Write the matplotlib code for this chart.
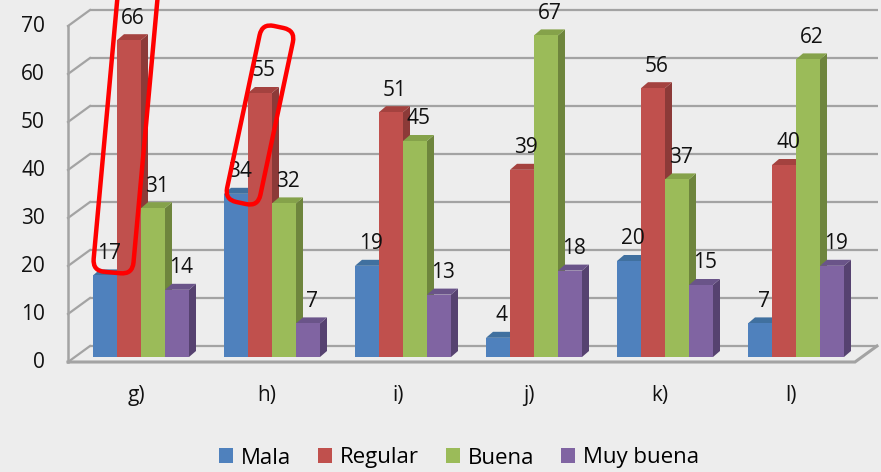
import matplotlib
matplotlib.use("Agg")
import matplotlib.pyplot as plt
from matplotlib.patches import Polygon, Patch, FancyBboxPatch
from matplotlib import transforms

# ---- data ----
categories = ["g)", "h)", "i)", "j)", "k)", "l)"]
series_names = ["Mala", "Regular", "Buena", "Muy buena"]
mala = [17, 34, 19, 4, 20, 7]
regular = [66, 55, 51, 39, 56, 40]
buena = [31, 32, 45, 67, 37, 62]
muy_buena = [14, 7, 13, 18, 15, 19]
y_ticks = [0, 10, 20, 30, 40, 50, 60, 70]
highlighted = [(0, 1), (1, 1)]  # (category, series) marked with a red loop

series_values = [mala, regular, buena, muy_buena]

# ---- style ----
front_colors = ["#4F81BD", "#C0504D", "#9BBB59", "#8064A2"]
side_colors = ["#39608E", "#8C3A38", "#6E853D", "#564270"]
top_colors = ["#40709F", "#A4423F", "#85A24A", "#6A5489"]
grid_color = "#a3a3a3"
bg = "#ededed"
FONT = ["Open Sans", "DejaVu Sans"]

# pixel scale of one category step and one value unit
PX_X = 131.0
PX_Y = 4.8
W = 24 / PX_X                  # bar width
DX, DY = 7 / PX_X, 6 / PX_Y    # bar depth
FLOOR_X = -73 / PX_X           # front-left corner of the floor
FLOOR_Y = -5 / PX_Y
WALL_DX, WALL_DY = 22 / PX_X, 16 / PX_Y   # depth of the chart box
FLOOR_RIGHT = 714 / PX_X
YMAX = 70

fig = plt.figure(figsize=(8.81, 4.72), dpi=100, facecolor=bg)
ax = fig.add_axes([0, 0, 1, 1])
ax.set_facecolor(bg)
ax.set_xlim(-141 / PX_X, 740 / PX_X)
ax.set_ylim(-115 / PX_Y, 357 / PX_Y)
ax.axis("off")

# ---- walls and gridlines ----
bx0 = FLOOR_X + WALL_DX
bx1 = FLOOR_RIGHT + WALL_DX + 1 / PX_X
for v in y_ticks:
    yf = v + FLOOR_Y
    yb = yf + WALL_DY
    ax.plot([bx0, bx1], [yb, yb], color=grid_color, lw=1.6, zorder=1,
            solid_capstyle="butt")
    ax.plot([FLOOR_X, bx0], [yf, yb], color=grid_color, lw=1.6, zorder=1)
    ax.text(FLOOR_X - 23 / PX_X, yf, str(v), ha="right", va="center",
            fontsize=15, family=FONT, color="#111111")
ax.plot([FLOOR_X, FLOOR_X], [FLOOR_Y, YMAX + FLOOR_Y], color=grid_color,
        lw=1.8, zorder=1)
# floor
ax.plot([FLOOR_X, FLOOR_RIGHT, FLOOR_RIGHT + WALL_DX],
        [FLOOR_Y, FLOOR_Y, FLOOR_Y + WALL_DY], color=grid_color, lw=2.2,
        zorder=1, solid_joinstyle="miter")

# ---- 3D bars ----
for i in range(len(categories)):
    for s, vals in enumerate(series_values):
        v = vals[i]
        x0 = i - 2 * W + s * W
        x1 = x0 + W
        side = Polygon([(x1, 0), (x1 + DX, DY), (x1 + DX, v + DY), (x1, v)],
                       closed=True, fc=side_colors[s], ec="none", zorder=2 + 0.1 * s)
        top = Polygon([(x0, v), (x1, v), (x1 + DX, v + DY), (x0 + DX, v + DY)],
                      closed=True, fc=top_colors[s], ec="none", zorder=2 + 0.1 * s)
        front = Polygon([(x0, 0), (x1, 0), (x1, v), (x0, v)], closed=True,
                        fc=front_colors[s], ec="none", zorder=2.05 + 0.1 * s)
        for p in (side, top, front):
            ax.add_patch(p)
        ax.text((x0 + x1) / 2 + 4 / PX_X, v + 22 / PX_Y, str(v), ha="center",
                va="center", fontsize=15, family=FONT, color="#111111", zorder=5)

# category labels
for i, c in enumerate(categories):
    ax.text(i - 5 / PX_X, -38 / PX_Y, c, ha="center", va="center",
            fontsize=15, family=FONT, color="#111111")

# ---- red hand-drawn loops ----
# (category, series): (offset right px, offset down px from bar top, width, height, tilt deg)
loop_shapes = {
    (0, 1): (-2, 73, 40, 320, 5.2),
    (1, 1): (0, 22, 34, 180, 12.0),
}
for key in highlighted:
    i, s = key
    ox, oy, lw_, lh, ang = loop_shapes[key]
    xc = i - 2 * W + s * W + W / 2
    v = series_values[s][i]
    tr = (transforms.Affine2D().rotate_deg(-ang).translate(ox, -oy)
          + transforms.ScaledTranslation(xc, v, ax.transData))
    loop = FancyBboxPatch((-lw_ / 2, -lh / 2), lw_, lh,
                          boxstyle="round,pad=0,rounding_size=12",
                          fc="none", ec="#ff0000", lw=3.2, transform=tr,
                          zorder=6, clip_on=False)
    ax.add_patch(loop)

# ---- legend ----
handles = [Patch(fc=c, ec="none") for c in front_colors]
fig.legend(handles, series_names, loc="center", ncol=4,
           bbox_to_anchor=(459 / 881, 1 - 458 / 472), frameon=False,
           handlelength=0.65, handleheight=0.65, handletextpad=0.35,
           columnspacing=1.2, prop={"family": FONT, "size": 16})

fig.savefig("out.png", dpi=100, facecolor=bg)
